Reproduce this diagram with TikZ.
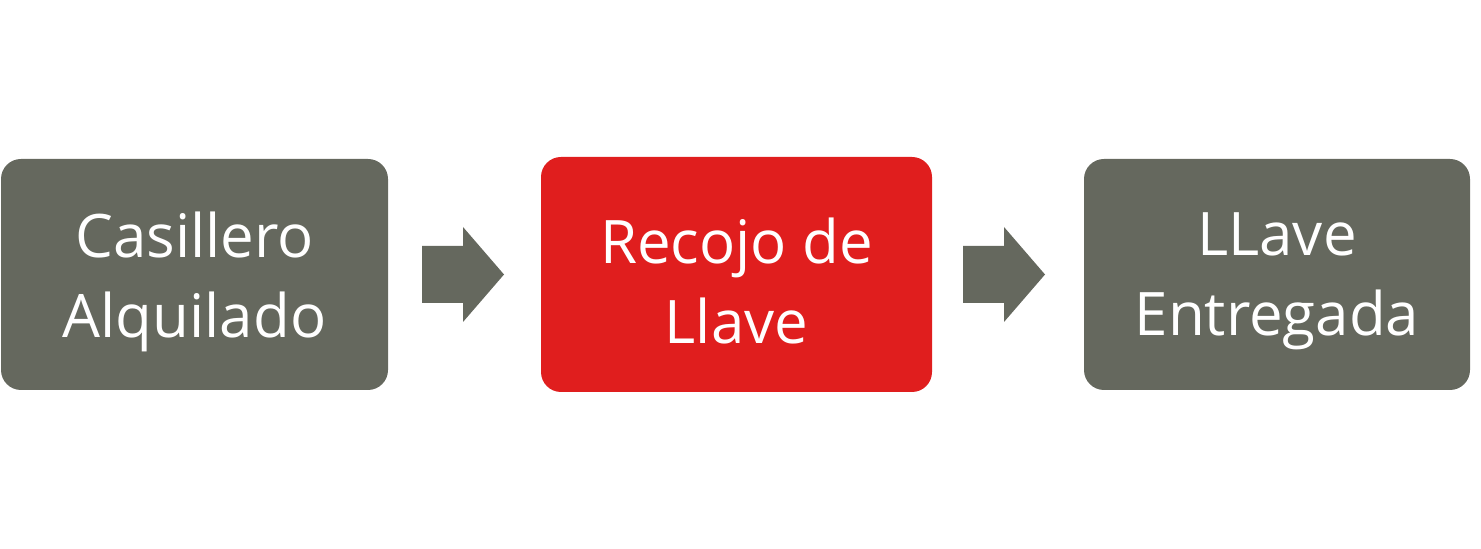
\documentclass[tikz,border=0pt]{standalone}
\usepackage{fontspec}
\setmainfont{Open Sans}
\usetikzlibrary{calc}
\definecolor{boxgray}{RGB}{101,104,94}
\definecolor{boxred}{RGB}{224,30,30}
\tikzset{
  stage/.style={rounded corners=20pt, minimum height=231pt, inner sep=0pt},
  stagetext/.style={text=white, align=center, font=\fontsize{60}{80}\selectfont, inner sep=0pt, yshift=-7pt},
  blockarrow/.style={fill=boxgray, draw=none}
}
\begin{document}
\begin{tikzpicture}[x=1pt,y=1pt]
\useasboundingbox (0,0) rectangle (1481,549);
\node[stage, fill=boxgray, minimum width=387pt] (a) at (194.5,274.5) {};
\node[stagetext] (at) at (a.center) {Casillero\\Alquilado};
\node[stage, fill=boxred, minimum width=391pt, minimum height=235pt] (b) at (736.5,274.5) {};
\node[stagetext] (bt) at (b.center) {Recojo de\\Llave};
\node[stage, fill=boxgray, minimum width=386pt] (c) at (1277,274.5) {};
\node[stagetext] (ct) at (c.center) {LLave\\Entregada};
% block arrows
\coordinate (p1) at (422,274.5);
\coordinate (p2) at (963,274.5);
\foreach \p in {p1,p2}{
  \fill[blockarrow] ($(\p)+(0,28.5)$) -- ($(\p)+(41,28.5)$) -- ($(\p)+(41,47.5)$) -- ($(\p)+(82,0)$) -- ($(\p)+(41,-47.5)$) -- ($(\p)+(41,-28.5)$) -- ($(\p)+(0,-28.5)$) -- cycle;
}
\end{tikzpicture}
\end{document}
